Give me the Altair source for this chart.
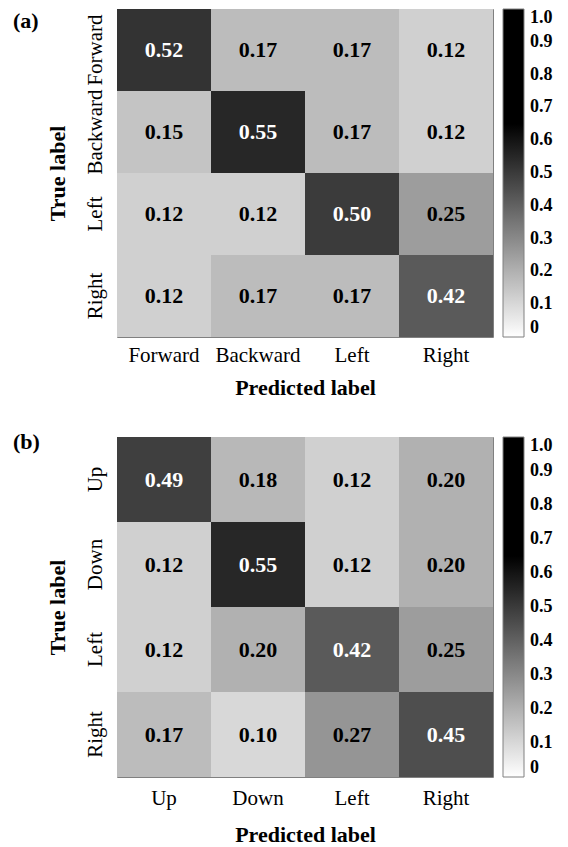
import altair as alt
import pandas as pd

SERIF = "Liberation Serif"

# ---- data -------------------------------------------------------------
pred_a = ["Forward", "Backward", "Left", "Right"]
true_a = ["Forward", "Backward", "Left", "Right"]
vals_a = [
    [0.52, 0.17, 0.17, 0.12],
    [0.15, 0.55, 0.17, 0.12],
    [0.12, 0.12, 0.50, 0.25],
    [0.12, 0.17, 0.17, 0.42],
]

pred_b = ["Up", "Down", "Left", "Right"]
true_b = ["Up", "Down", "Left", "Right"]
vals_b = [
    [0.49, 0.18, 0.12, 0.20],
    [0.12, 0.55, 0.12, 0.20],
    [0.12, 0.20, 0.42, 0.25],
    [0.17, 0.10, 0.27, 0.45],
]

tags = ["(a)", "(b)"]
colorbar_ticks = [0.0, 0.1, 0.2, 0.3, 0.4, 0.5, 0.6, 0.7, 0.8, 0.9, 1.0]

W = 376


def panel(rows, cols, vals, tag, height, label_pad, title_y, tag_y):
    df = pd.DataFrame(
        [
            {"true": r, "pred": c, "v": vals[i][j]}
            for i, r in enumerate(rows)
            for j, c in enumerate(cols)
        ]
    )
    x = alt.X(
        "pred:N",
        sort=cols,
        scale=alt.Scale(paddingInner=0, paddingOuter=0),
        axis=alt.Axis(
            title="Predicted label",
            labelAngle=0,
            ticks=False,
            tickSize=0,
            domain=False,
            labelFont=SERIF,
            labelFontSize=21,
            labelColor="black",
            labelBaseline="middle",
            labelPadding=label_pad,
            titleFont=SERIF,
            titleFontSize=22,
            titleFontWeight="bold",
            titleColor="black",
            titleBaseline="middle",
            titleAlign="center",
            titleX=W / 2,
            titleY=title_y,
        ),
    )
    y = alt.Y(
        "true:N",
        sort=rows,
        scale=alt.Scale(paddingInner=0, paddingOuter=0),
        axis=alt.Axis(
            title="True label",
            labelAngle=270,
            ticks=False,
            tickSize=0,
            domain=False,
            labelFont=SERIF,
            labelFontSize=21,
            labelColor="black",
            labelAlign="center",
            labelBaseline="middle",
            labelPadding=22,
            titleFont=SERIF,
            titleFontSize=22,
            titleFontWeight="bold",
            titleColor="black",
            titleAngle=270,
            titleAlign="center",
            titleBaseline="middle",
            titleX=-60,
            titleY=height / 2,
        ),
    )
    color = alt.Color(
        "v:Q",
        scale=alt.Scale(
            domain=[0, 0.65, 1.0],
            range=["#ffffff", "#000000", "#000000"],
            interpolate="rgb",
        ),
        legend=alt.Legend(
            title=None,
            orient="right",
            offset=10,
            direction="vertical",
            gradientLength=height,
            gradientThickness=21,
            gradientStrokeColor="#808080",
            gradientStrokeWidth=1,
            values=colorbar_ticks,
            labelExpr="datum.value == 0 ? '0' : format(datum.value, '.1f')",
            labelFont=SERIF,
            labelFontSize=18,
            labelFontWeight="bold",
            labelColor="black",
            labelOffset=6,
            labelOverlap=False,
        ),
    )
    base = alt.Chart(df)
    rect = base.mark_rect().encode(x=x, y=y, color=color)
    text = base.mark_text(
        font=SERIF, fontSize=22, fontWeight="bold", baseline="middle"
    ).encode(
        x=x,
        y=y,
        text=alt.Text("v:Q", format=".2f"),
        color=alt.condition(alt.datum.v > 0.35, alt.value("white"), alt.value("black")),
    )
    tag_layer = (
        alt.Chart(pd.DataFrame({"t": [tag]}))
        .mark_text(
            font=SERIF, fontSize=22, fontWeight="bold", align="left", baseline="middle",
            color="black",
        )
        .encode(text="t:N", x=alt.value(-104), y=alt.value(tag_y))
    )
    return alt.layer(rect, text, tag_layer).properties(width=W, height=height)


pa = panel(true_a, pred_a, vals_a, tags[0], 328, 18, 50, 12)
pb = panel(true_b, pred_b, vals_b, tags[1], 340, 21, 57, 5)

chart = (
    alt.vconcat(pa, pb, spacing=31)
    .resolve_scale(color="independent", x="independent", y="independent")
    .resolve_legend(color="independent")
    .properties(padding={"left": 4, "top": 0, "right": 0, "bottom": 0})
    .configure_view(stroke="#808080", strokeWidth=1)
)

chart.save("out.html", embed_options={"renderer": "svg", "actions": False})
